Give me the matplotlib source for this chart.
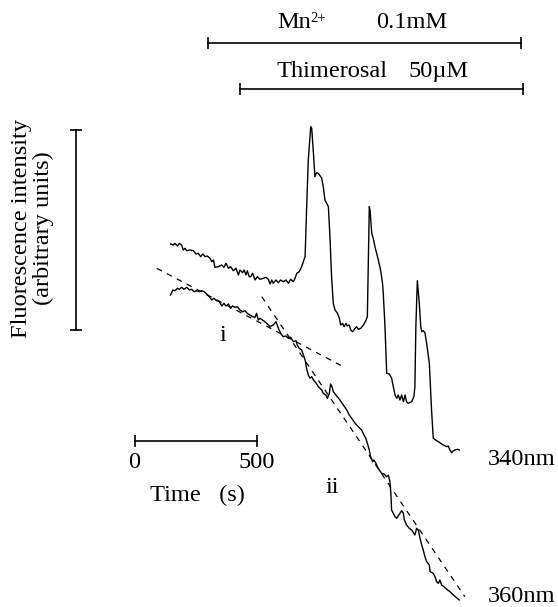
import numpy as np
import matplotlib
matplotlib.use("Agg")
import matplotlib.pyplot as plt

# time in s, fluorescence in arbitrary units
T_340 = [147, 158, 165, 175, 183, 192, 199, 206, 213, 226, 240, 251, 260, 270, 278,
         288, 297, 308, 315, 322, 328, 342, 356, 365, 373, 383, 392, 403, 414, 424,
         430, 441, 447, 455, 460, 468, 474, 482, 492, 501, 512, 526, 536, 546, 553,
         560, 566, 577, 587, 596, 607, 618, 628, 637, 648, 655, 662, 672, 682, 691,
         696, 702, 709, 719, 723, 730, 736, 743, 750, 764, 770, 777, 784, 791, 798,
         804, 811, 818, 828, 836, 841, 849, 855, 863, 868, 876, 882, 890, 900, 906,
         913, 923, 934, 944, 950, 954, 958, 961, 968, 974, 981, 988, 995, 1004, 1012,
         1015, 1022, 1029, 1040, 1049, 1056, 1063, 1070, 1076, 1083, 1090, 1097, 1104,
         1110, 1117, 1131, 1140, 1144, 1148, 1154, 1158, 1162, 1168, 1172, 1178, 1185,
         1192, 1203, 1212, 1219, 1233, 1246, 1260, 1274, 1280, 1287, 1294, 1301, 1308,
         1317, 1325]
F_340 = [356, 355, 356.7, 354, 356.7, 355, 350, 351.7, 349.3, 350, 349.3, 346, 346.7,
         343.3, 346, 343.3, 344, 341.7, 338.3, 340, 332.7, 333.3, 335, 332.7, 336.7,
         331.7, 333.3, 329.3, 331.7, 325, 330, 327.3, 330, 325, 329.3, 323.3, 323.3,
         326.7, 320, 323.3, 320.7, 321.7, 322.7, 320.7, 316, 320, 316.7, 320, 317.3,
         320, 318.3, 320, 316.7, 320.7, 318.3, 321.7, 326.7, 328.3, 333.3, 340,
         343.3, 390, 440, 473.3, 471.7, 446.7, 423.3, 427.3, 426.7, 421.7, 413.3, 400,
         396.7, 393.3, 360, 323.3, 296.7, 290, 286.7, 281.7, 275, 276.7, 273.3, 276.7,
         274, 275, 270, 268.3, 271.7, 273.3, 270.7, 271.7, 275, 279.3, 283.3, 340,
         393.3, 390, 366.7, 361.7, 353.3, 346.7, 340, 330, 316.7, 306.7, 273.3, 226.7,
         226, 221.7, 213.3, 205, 201.7, 205, 200, 205, 198.3, 205, 198.3, 196.7, 198.3,
         203.3, 213.3, 273.3, 319.3, 308.3, 296.7, 273.3, 268.3, 269.3, 267.3, 256.7,
         236.7, 190, 161.7, 159.3, 157.3, 155, 153.3, 154, 150, 147.3, 149.3, 150,
         150.7, 150]

T_360 = [147, 156, 165, 175, 183, 192, 202, 213, 224, 233, 243, 254, 264, 274, 284,
         294, 305, 315, 324, 335, 346, 356, 365, 373, 383, 392, 400, 410, 420, 430,
         441, 451, 460, 471, 482, 492, 498, 505, 512, 526, 539, 553, 566, 577, 587,
         596, 607, 618, 628, 637, 648, 659, 664, 672, 682, 689, 696, 702, 709, 716,
         723, 730, 740, 750, 764, 770, 781, 787, 795, 800, 806, 811, 825, 838, 852,
         866, 876, 886, 900, 913, 927, 936, 944, 950, 958, 963, 972, 977, 985, 991,
         999, 1008, 1018, 1029, 1036, 1042, 1046, 1049, 1056, 1063, 1070, 1076, 1083,
         1090, 1097, 1101, 1110, 1121, 1131, 1138, 1144, 1151, 1158, 1165, 1172, 1178,
         1185, 1192, 1203, 1206, 1219, 1226, 1233, 1240, 1246, 1253, 1263, 1274, 1287,
         1301, 1314, 1325]
F_360 = [305, 310, 309.3, 311.7, 310.7, 312.7, 310.7, 312.7, 310, 310.7, 308.3, 309.3,
         308.3, 309.3, 308.3, 306, 303.3, 300, 301.7, 299.3, 298.3, 294, 296.7, 294,
         296, 291.7, 294, 292.7, 293.3, 290, 288.3, 289.3, 286.7, 285, 283.3, 282.7,
         286.7, 280, 281.7, 279.3, 276.7, 273.3, 275, 278.3, 271.7, 266.7, 263.3, 264,
         261.7, 262.7, 258.3, 259.3, 255, 251.7, 250, 245, 240, 231.7, 225, 221.7,
         223.3, 220, 217.3, 213.3, 210, 206.7, 205, 201.7, 206.7, 216, 213.3, 208.3,
         204, 200, 195, 190, 185, 181.7, 176.7, 173.3, 170, 165, 161.7, 156.7, 150,
         143.3, 138.3, 140, 136.7, 133.3, 130, 126.7, 126, 123.3, 125, 118.3, 106.7,
         90, 86.7, 83.3, 81.7, 84, 86.7, 89.3, 86.7, 80, 75, 71.7, 70, 67.3, 65, 71.7,
         70, 61.7, 55, 50, 43.3, 38.3, 35, 28.3, 26.7, 23.3, 18.3, 16.7, 20, 15, 13.3,
         10.7, 8.3, 5, 2.3, 0]

# fitted slopes (dashed)
FIT_I_T = [91, 852]
FIT_I_F = [331.7, 233.3]
FIT_II_T = [519, 1348]
FIT_II_F = [303.3, 3.3]

# scale bars and treatment periods
TIME_BAR = [0, 500]
TIME_BAR_F = 159.3
F_BAR = [270, 470]
F_BAR_T = -239
MN_PERIOD = [300, 1577]
MN_F = 557.3
THIM_PERIOD = [430, 1586]
THIM_F = 510.7

plt.rcParams['font.family'] = ['Liberation Serif', 'DejaVu Serif']
FS = 17.6

fig = plt.figure(figsize=(5.58, 6.07), dpi=100)
ax = fig.add_axes([0, 0, 1, 1])
ax.set_xlim(-549, 1728)
ax.set_ylim(-7, 600)
ax.axis('off')

# traces
ax.plot(T_340, F_340, color='black', lw=1.0)
ax.plot(T_360, F_360, color='black', lw=1.0)
ax.plot(FIT_I_T, FIT_I_F, color='black', lw=0.9, dashes=(4.5, 4.5))
ax.plot(FIT_II_T, FIT_II_F, color='black', lw=0.9, dashes=(4.5, 4.5))

# scale bars
bar_kw = dict(color='black', lw=1.2, markersize=8, mew=1.2)
ax.plot(TIME_BAR, [TIME_BAR_F] * 2, marker='|', **bar_kw)
ax.plot([F_BAR_T] * 2, F_BAR, marker='_', **bar_kw)
ax.plot(MN_PERIOD, [MN_F] * 2, marker='|', **bar_kw)
ax.plot(THIM_PERIOD, [THIM_F] * 2, marker='|', **bar_kw)

# labels
ax.text(0, 131.7, '0', fontsize=FS, ha='center', va='baseline')
ax.text(500, 131.7, '500', fontsize=FS, ha='center', va='baseline')
ax.text(63, 99.3, 'Time   (s)', fontsize=FS, ha='left', va='baseline')
ax.text(-416, 372, 'Fluorescence intensity\n(arbitrary units)', fontsize=FS,
        rotation=90, ha='center', va='center', multialignment='center',
        linespacing=1.0)
ax.text(581, 571.7, 'Mn', fontsize=FS, ha='left', va='baseline')
ax.text(718, 578.3, '2+', fontsize=10.5, ha='left', va='baseline')
ax.text(984, 571.7, '0.1mM', fontsize=FS, ha='left', va='baseline')
ax.text(581, 523.3, 'Thimerosal', fontsize=FS, ha='left', va='baseline')
ax.text(1117, 523.3, '50\u00b5M', fontsize=FS, ha='left', va='baseline')
ax.text(359, 259.3, 'i', fontsize=FS, ha='center', va='baseline')
ax.text(806, 106.7, 'ii', fontsize=FS, ha='center', va='baseline')
ax.text(1442, 135, '340nm', fontsize=FS, ha='left', va='baseline')
ax.text(1442, -1.7, '360nm', fontsize=FS, ha='left', va='baseline')

fig.savefig('out.png', dpi=100)
